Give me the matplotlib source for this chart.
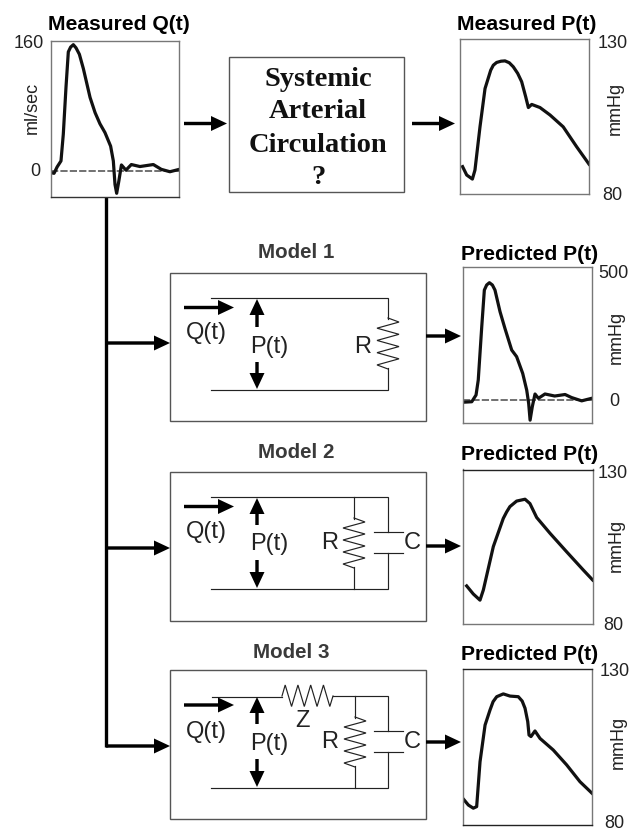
import matplotlib
matplotlib.use('Agg')
import matplotlib.pyplot as plt
from matplotlib.patches import Rectangle

plt.rcParams['font.family'] = ['Liberation Sans', 'DejaVu Sans']

W, H = 636, 831

# curves: time in % of the beat, value in axis units
q_time = [0, 2.6, 5, 8, 9.8, 11.9, 13.7, 15.5, 17.6, 19.7, 22.3, 25.4, 30.6, 34.5, 38.3, 42.2, 46.6, 48.7, 50, 51.3, 53, 55, 58.5, 62.7, 69.4, 79.8, 86, 92.7, 100]
q_flow = [-2, -3, 5, 12.5, 46, 105, 149, 155, 158, 154, 146, 128, 92, 73, 59, 48, 31, 12.5, -17, -28, -12.5, 7.5, 1, 8, 5.5, 8, 2, -1, 2]

p_time = [2, 5.2, 9.6, 11.6, 15.5, 19.4, 23.8, 25.8, 28.4, 31.8, 34.9, 38.2, 41.3, 44.7, 47.8, 50.9, 53, 55.6, 62, 69.8, 80, 90.4, 100]
p_meas = [88.8, 86.1, 84.8, 87.7, 101.6, 113.9, 119.8, 121.4, 122.3, 122.7, 122.8, 122.2, 120.9, 118.8, 116.1, 111.3, 107.8, 108.8, 107.8, 105.4, 101.6, 95.2, 89.6]

m1_time = [1.8, 7, 10.3, 12, 14.7, 16.7, 18.5, 20.6, 22.9, 24.9, 28.8, 32.6, 37.8, 41.6, 46.3, 49.4, 50.9, 52, 53.7, 55.8, 58.4, 63.5, 71, 79, 84, 91.8, 99.5]
m1_pred = [-8, -6.5, 20, 79, 289, 433, 453, 462, 453, 433, 348, 282, 197, 171, 105, 39, -13, -79, -26, 24, 7, 24, 16, 22, 10, -3, 7]

m2_time = [2.6, 7.7, 12.9, 15.5, 23.2, 30.9, 33.5, 36, 41.2, 47.7, 51.5, 56.7, 67, 79.9, 92.8, 100]
m2_pred = [92.4, 89.8, 87.8, 91.1, 105.1, 114.2, 116.3, 118, 119.8, 120.4, 119, 114.5, 109.4, 103.4, 97.5, 94.3]

m3_time = [0, 4.4, 8.2, 10.8, 13.4, 17.3, 21.1, 23.5, 26.3, 31.4, 36.6, 43, 46, 48.2, 50.3, 51.3, 52.8, 55.9, 59.8, 70, 80.4, 90.7, 100]
m3_pred = [88.6, 86.4, 85.4, 85.9, 100.3, 112.1, 116.9, 119.6, 121.2, 122.1, 121.4, 121.2, 119.8, 117.5, 113.2, 108.9, 108.4, 110.2, 107.8, 104.1, 99.3, 93.9, 90.2]

fig = plt.figure(figsize=(W / 100, H / 100), dpi=100, facecolor='white')

# overlay in picture pixels for the block diagram
bg = fig.add_axes([0, 0, 1, 1])
bg.set_xlim(0, W)
bg.set_ylim(H, 0)
bg.axis('off')


def arrow(x0, y0, x1, y1, shaft=3.4, head=15, length=16):
    bg.arrow(x0, y0, x1 - x0, y1 - y0, width=shaft, head_width=head, head_length=length,
             length_includes_head=True, fc='black', ec='none', zorder=5)


def wire(xs, ys, lw=0.85, color='#222222'):
    bg.plot(xs, ys, color=color, lw=lw, solid_joinstyle='miter', zorder=3)


def box(x0, y0, x1, y1):
    bg.add_patch(Rectangle((x0, y0), x1 - x0, y1 - y0, fc='white', ec='#555555', lw=1.0, zorder=1))


def zigzag_v(x, y0, y1, half=11, teeth=4):
    step = (y1 - y0) / (teeth * 2)
    xs = [x]
    ys = [y0 - 1]
    for i in range(teeth * 2):
        xs.append(x + half if i % 2 == 0 else x - half)
        ys.append(y0 + step * (i + 0.5))
    xs.append(x)
    ys.append(y1 + 1)
    wire(xs, ys)


def zigzag_h(x0, x1, y0, y1, teeth=4):
    step = (x1 - x0) / (teeth * 2)
    xs = [x0]
    ys = [y0 + 11]
    for i in range(teeth * 2):
        xs.append(x0 + step * (i + 0.5))
        ys.append(y0 if i % 2 == 0 else y1)
    xs.append(x1)
    ys.append(y0 + 11)
    wire(xs, ys)


def label(x, y, s, size=13, **kw):
    bg.text(x, y, s, ha='center', va='center', fontsize=size, color='#222222', zorder=6, **kw)


def part(x, y, s):
    label(x, y, s, size=17)


def title(x, y, s, color='black', size=15.2):
    bg.text(x, y + 1, s, ha='center', va='center', fontsize=size, fontweight='bold', color=color, zorder=6)


def panel(x0, y0, x1, y1, ylim, time, vals, zero=False, edge='#777777'):
    ax = fig.add_axes([x0 / W, 1 - y1 / H, (x1 - x0) / W, (y1 - y0) / H])
    ax.set_xlim(0, 100)
    ax.set_ylim(*ylim)
    ax.set_xticks([])
    ax.set_yticks([])
    ax.patch.set_alpha(0)
    for s in ax.spines.values():
        s.set_color(edge)
        s.set_linewidth(1.0)
    if zero:
        ax.axhline(0, color='#666666', lw=1.3, ls=(0, (4, 1.2)), zorder=1)
    ax.plot(time, vals, color='#111111', lw=2.3, solid_joinstyle='round', zorder=2)
    return ax


# top row
title(118.5, 24, 'Measured Q(t)')
title(526.5, 23, 'Measured P(t)')
box(229, 57, 404, 192)
for y, s in zip([79, 112, 145, 178], ['Systemic', 'Arterial', 'Circulation', '?']):
    bg.text(318, y, s, ha='center', va='center', fontsize=20.5, fontweight='bold',
            family='Liberation Serif', color='#111111')
arrow(184, 123.5, 227, 123.5)
arrow(412, 123.5, 455, 123.5)
ax_q = panel(50.7, 40.7, 179.3, 196.5, (-32, 163), q_time, q_flow, zero=True)
ax_q.spines['bottom'].set_color('#333333')
panel(460, 38.5, 589, 194, (80, 130), p_time, p_meas)
label(29, 43, '160')
label(35, 172, '0')
label(32, 108, 'ml/sec', rotation=90)
label(612.5, 43, '130')
label(612, 195, '80')
label(615, 108, 'mmHg', rotation=90)

# feed line from the measured flow down to the three models
bg.plot([106, 106], [197, 746.5], color='black', lw=2.4, solid_capstyle='butt', zorder=4)
for y in [343, 548, 746]:
    arrow(106, y, 170, y)

# model 1
title(296, 252, 'Model 1', color='#3a3a3a', size=14.8)
title(530, 253, 'Predicted P(t)')
box(170, 272.5, 426, 421)
wire([211, 388, 388], [297.5, 297.5, 319])
wire([211, 388, 388], [390, 390, 368])
zigzag_v(388, 319, 368)
arrow(184, 307.5, 234, 307.5)
arrow(257, 327, 257, 299)
arrow(257, 362, 257, 389)
part(206, 333, 'Q(t)')
part(269, 347, 'P(t)')
part(363, 347, 'R')
arrow(426, 336, 461, 336)
panel(462.7, 266.7, 592.3, 422.7, (-89, 525), m1_time, m1_pred, zero=True)
label(613, 273, '500')
label(614, 401, '0')
label(616, 337, 'mmHg', rotation=90)

# model 2
title(296.5, 452, 'Model 2', color='#3a3a3a', size=14.8)
title(530, 453, 'Predicted P(t)')
box(170, 471.5, 426, 620.5)
wire([211, 388, 388], [496.5, 496.5, 531.5])
wire([211, 388, 388], [589, 589, 552.5])
wire([354, 354], [496.5, 519])
wire([354, 354], [567, 589])
zigzag_v(354, 519, 567)
wire([374, 403], [531.5, 531.5])
wire([374, 403], [552.5, 552.5])
arrow(184, 506.5, 234, 506.5)
arrow(257, 525, 257, 498)
arrow(257, 560, 257, 588)
part(206, 532, 'Q(t)')
part(269, 544, 'P(t)')
part(330, 543, 'R')
part(412, 543, 'C')
arrow(426, 546, 461, 546)
ax_m2 = panel(463.3, 469.5, 592.7, 624.3, (80, 130), m2_time, m2_pred)
ax_m2.spines['top'].set_color('#222222')
label(613, 473, '130')
label(613, 625, '80')
label(616, 545, 'mmHg', rotation=90)

# model 3
title(291, 652, 'Model 3', color='#3a3a3a', size=14.8)
title(530, 653, 'Predicted P(t)')
box(170, 669.7, 426, 818.7)
wire([212, 282], [696.5, 696.5])
zigzag_h(282, 333, 685, 706.5)
wire([333, 388, 388], [696, 696, 730.5])
wire([211, 388, 388], [787.5, 787.5, 751.5])
wire([355, 355], [696, 718])
wire([355, 355], [766, 787.5])
zigzag_v(355, 718, 766)
wire([374, 403], [730.5, 730.5])
wire([374, 403], [751.5, 751.5])
arrow(184, 705, 234, 705)
arrow(257, 724, 257, 697)
arrow(257, 759, 257, 787)
part(206, 732, 'Q(t)')
part(269, 744, 'P(t)')
part(302, 721, 'Z')
part(330, 742, 'R')
part(412, 742, 'C')
arrow(426, 742, 461, 742)
ax_m3 = panel(462.7, 669.3, 592, 825, (80, 130), m3_time, m3_pred)
ax_m3.spines['top'].set_color('#222222')
ax_m3.spines['bottom'].set_color('#222222')
label(615, 672, '130')
label(614, 823, '80')
label(618, 742, 'mmHg', rotation=90)

fig.savefig('out.png', dpi=100)
